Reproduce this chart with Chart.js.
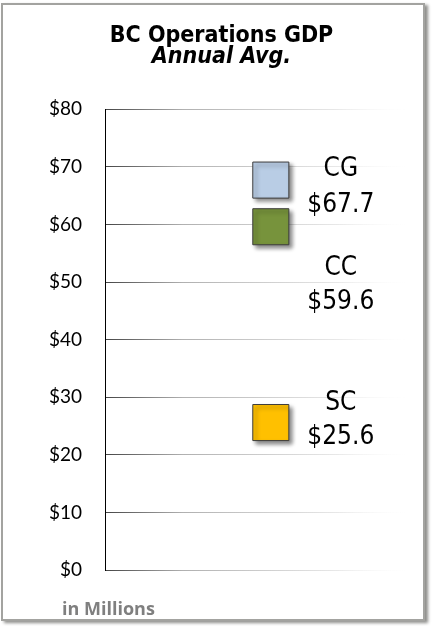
<!DOCTYPE html>
<html>
<head>
<meta charset="utf-8">
<script src="https://cdn.jsdelivr.net/npm/chart.js@4"></script>
<style>
  html, body { margin: 0; padding: 0; background: #ffffff; width: 433px; height: 626px; overflow: hidden; }
  #frame { position: absolute; left: 1px; top: 3px; width: 424px; height: 618px; box-sizing: border-box;
           border: 2px solid #a3a3a0; box-shadow: 3px 2px 3px #8f8f8c; background: #fff; }
  #c { position: absolute; left: 0; top: 0; }
</style>
</head>
<body>
<div id="frame"></div>
<canvas id="c" width="433" height="626"></canvas>
<script>
// ---- data ----
const categories = ['CG', 'CC', 'SC'];
const values = [67.7, 59.6, 25.6];
const valueLabels = ['$67.7', '$59.6', '$25.6'];
const yTickValues = [0, 10, 20, 30, 40, 50, 60, 70, 80];
const yTickLabels = ['$0', '$10', '$20', '$30', '$40', '$50', '$60', '$70', '$80'];
const xCategoryIndex = 0; // single category "Annual Avg"

// ---- styles ----
const fillColors = ['#b9cde5', '#77933c', '#ffc000'];
const labelOffsets = [[-11, 25], [42, 76], [-19, 15]]; // px offsets of name / value line from point
const labelDx = 70;

const labelFont = "'DejaVu Sans Condensed', 'DejaVu Sans', sans-serif";

const shadowPlugin = {
  id: 'pointShadow',
  beforeDatasetsDraw(chart) {
    const ctx = chart.ctx;
    ctx.save();
    ctx.shadowColor = 'rgba(0,0,0,0.45)';
    ctx.shadowBlur = 4;
    ctx.shadowOffsetX = 3;
    ctx.shadowOffsetY = 3;
  },
  afterDatasetsDraw(chart) {
    const ctx = chart.ctx;
    ctx.restore();
    ctx.save();
    ctx.fillStyle = '#000';
    ctx.textAlign = 'center';
    ctx.textBaseline = 'middle';
    ctx.font = "26px " + labelFont;
    chart.data.datasets.forEach((ds, i) => {
      const el = chart.getDatasetMeta(i).data[0];
      if (!el) return;
      const off = labelOffsets[i];
      ctx.fillText(categories[i], el.x + labelDx, el.y + off[0]);
      ctx.fillText(valueLabels[i], el.x + labelDx, el.y + off[1]);
    });
    // units note
    ctx.textAlign = 'left';
    ctx.fillStyle = '#7f7f7f';
    ctx.font = "bold 18px 'Open Sans', Lato, sans-serif";
    ctx.fillText('in Millions', chart.chartArea.left - 43, 610);
    ctx.restore();
  }
};

function gridColor(context) {
  const chart = context.chart;
  const a = chart.chartArea;
  if (!a) return '#999';
  const g = chart.ctx.createLinearGradient(a.left, 0, a.left + 310, 0);
  g.addColorStop(0, '#454545');
  g.addColorStop(0.25, '#b0b0b0');
  g.addColorStop(0.75, '#e8e8e8');
  g.addColorStop(1, 'rgba(255,255,255,0)');
  return g;
}

new Chart(document.getElementById('c'), {
  type: 'line',
  data: {
    datasets: categories.map((name, i) => ({
      label: name,
      data: [{ x: xCategoryIndex, y: values[i] }],
      showLine: false,
      pointStyle: 'rect',
      pointRadius: 25.5,
      pointHoverRadius: 25.5,
      pointBackgroundColor: fillColors[i],
      pointBorderColor: '#3c3c3c',
      pointBorderWidth: 1,
      pointHoverBorderWidth: 1
    }))
  },
  options: {
    responsive: false,
    animation: false,
    events: [],
    layout: { padding: { left: 10, right: 0, top: 0, bottom: 56 } },
    plugins: {
      legend: { display: false },
      tooltip: { enabled: false },
      title: {
        display: true,
        text: 'BC Operations GDP',
        color: '#000',
        font: { family: labelFont, size: 23, weight: 'bold', lineHeight: 1.0 },
        padding: { top: 25, bottom: 0 }
      },
      subtitle: {
        display: true,
        text: 'Annual Avg.',
        color: '#000',
        font: { family: labelFont, size: 23, weight: 'bold', style: 'italic', lineHeight: 0.75 },
        padding: { top: 0, bottom: 44 }
      }
    },
    scales: {
      x: {
        type: 'linear',
        display: false,
        min: -1.1,
        max: 0.9
      },
      y: {
        min: 0,
        max: 80,
        afterFit(scale) { scale.width = 95; },
        afterBuildTicks(scale) { scale.ticks = yTickValues.map(v => ({ value: v })); },
        border: { display: true, color: '#000', width: 1 },
        grid: { color: gridColor, lineWidth: 1, drawTicks: false },
        ticks: {
          padding: 23,
          color: '#000',
          font: { family: "Lato, 'Open Sans', sans-serif", size: 19 },
          callback: (v) => yTickLabels[yTickValues.indexOf(v)]
        }
      }
    }
  },
  plugins: [shadowPlugin]
});
</script>
</body>
</html>
